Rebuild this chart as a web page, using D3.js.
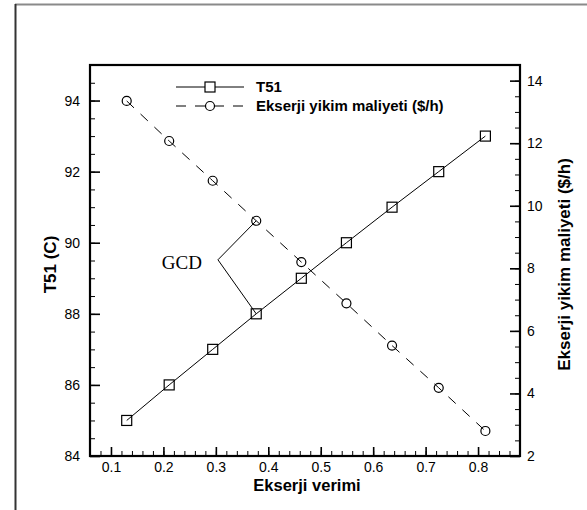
<!DOCTYPE html>
<html>
<head>
<meta charset="utf-8">
<script src="https://cdn.jsdelivr.net/npm/d3@7"></script>
<style>
  body { margin: 0; background: #fff; }
  svg { display: block; }
  text { font-family: "Liberation Sans", Arial, sans-serif; }
</style>
</head>
<body>
<svg id="chart"></svg>
<script>
// data
const efficiency = [0.130, 0.211, 0.294, 0.377, 0.463, 0.549, 0.636, 0.725, 0.814];
const t51 = [85, 86, 87, 88, 89, 90, 91, 92, 93];
const cost = [13.35, 12.07, 10.8, 9.52, 8.2, 6.88, 5.53, 4.18, 2.8];

const xTicks = [0.1, 0.2, 0.3, 0.4, 0.5, 0.6, 0.7, 0.8];
const leftTicks = [84, 86, 88, 90, 92, 94];
const rightTicks = [2, 4, 6, 8, 10, 12, 14];

// GCD callout (data coords)
const gcdLabel = [0.197, 89.27];
const gcdVertex = [0.304, 89.52];
const gcdIndex = 3;

const W = 587, H = 510;
const margin = {top: 65, right: 67, bottom: 54, left: 90};
const width = W - margin.left - margin.right;
const height = H - margin.top - margin.bottom;

const svg = d3.select("#chart").attr("width", W).attr("height", H);

// outer page border (only top and left visible)
svg.append("line").attr("x1", 15).attr("x2", W).attr("y1", 4.5).attr("y2", 4.5)
  .attr("stroke", "#8a8a8a").attr("stroke-width", 2);
svg.append("line").attr("x1", 15.5).attr("x2", 15.5).attr("y1", 4).attr("y2", H)
  .attr("stroke", "#333").attr("stroke-width", 2);

const g = svg.append("g").attr("transform", `translate(${margin.left},${margin.top})`);

const x = d3.scaleLinear().domain([0.06, 0.88]).range([0, width]);
const yL = d3.scaleLinear().domain([84, 95]).range([height, 0]);
const yR = d3.scaleLinear().domain([2, 14.5]).range([height, 0]);

// minor ticks
const xMinor = d3.range(0.06, 0.881, 0.02).map(d => +d.toFixed(2));
const lMinor = d3.range(84, 95.01, 0.5);
const rMinor = d3.range(2, 14.51, 0.5);

function styleAxis(sel, sw) {
  sel.select(".domain").remove();
  sel.selectAll(".tick line").attr("stroke", "#000").attr("stroke-width", sw);
  sel.selectAll(".tick text").style("font-size", "14px").attr("fill", "#000")
    .style("font-family", "'Liberation Sans', Arial, sans-serif");
}

g.append("g").attr("transform", `translate(0,${height})`)
  .call(d3.axisBottom(x).tickValues(xMinor).tickSize(-5).tickFormat(""))
  .call(s => styleAxis(s, 1));
g.append("g").attr("transform", `translate(0,${height})`)
  .call(d3.axisBottom(x).tickValues(xTicks).tickSize(-9).tickPadding(6).tickFormat(d3.format(".1f")))
  .call(s => styleAxis(s, 1.6));

g.append("g")
  .call(d3.axisLeft(yL).tickValues(lMinor).tickSize(-5).tickFormat(""))
  .call(s => styleAxis(s, 1));
g.append("g")
  .call(d3.axisLeft(yL).tickValues(leftTicks).tickSize(-10).tickPadding(10))
  .call(s => styleAxis(s, 1.6));

g.append("g").attr("transform", `translate(${width},0)`)
  .call(d3.axisRight(yR).tickValues(rMinor).tickSize(-5).tickFormat(""))
  .call(s => styleAxis(s, 1));
g.append("g").attr("transform", `translate(${width},0)`)
  .call(d3.axisRight(yR).tickValues(rightTicks).tickSize(-10).tickPadding(7))
  .call(s => styleAxis(s, 1.6));

// frame
g.append("rect").attr("width", width).attr("height", height)
  .attr("fill", "none").attr("stroke", "#000").attr("stroke-width", 2.2);

// series
const tLine = d3.line().x((d, i) => x(efficiency[i])).y(d => yL(d));
const cLine = d3.line().x((d, i) => x(efficiency[i])).y(d => yR(d));

g.append("path").attr("d", tLine(t51))
  .attr("fill", "none").attr("stroke", "#000").attr("stroke-width", 1);
g.append("path").attr("d", cLine(cost))
  .attr("fill", "none").attr("stroke", "#000").attr("stroke-width", 1)
  .attr("stroke-dasharray", "10,9");

const sq = 10;
g.selectAll(".sq").data(t51).join("rect")
  .attr("x", (d, i) => x(efficiency[i]) - sq / 2)
  .attr("y", d => yL(d) - sq / 2)
  .attr("width", sq).attr("height", sq)
  .attr("fill", "none").attr("stroke", "#000").attr("stroke-width", 1.2);

g.selectAll(".ci").data(cost).join("circle")
  .attr("cx", (d, i) => x(efficiency[i]))
  .attr("cy", d => yR(d))
  .attr("r", 4.5)
  .attr("fill", "none").attr("stroke", "#000").attr("stroke-width", 1.2);

// GCD callout
const vx = x(gcdVertex[0]), vy = yL(gcdVertex[1]);
g.append("path")
  .attr("d", `M${x(efficiency[gcdIndex])},${yR(cost[gcdIndex])}L${vx},${vy}L${x(efficiency[gcdIndex])},${yL(t51[gcdIndex])}`)
  .attr("fill", "none").attr("stroke", "#000").attr("stroke-width", 1);
g.append("text")
  .attr("x", x(gcdLabel[0])).attr("y", yL(gcdLabel[1]))
  .style("font-family", "'Liberation Serif', 'Times New Roman', serif")
  .style("font-size", "19px")
  .text("GCD");

// legend
const legend = svg.append("g");
const rows = [
  {label: "T51", dash: null, marker: "square", y: 87},
  {label: "Ekserji yikim maliyeti ($/h)", dash: "10,9", marker: "circle", y: 106}
];
rows.forEach(r => {
  legend.append("line").attr("x1", 176).attr("x2", 244).attr("y1", r.y).attr("y2", r.y)
    .attr("stroke", "#000").attr("stroke-width", 1)
    .attr("stroke-dasharray", r.dash);
  if (r.marker === "square") {
    legend.append("rect").attr("x", 210 - sq / 2).attr("y", r.y - sq / 2)
      .attr("width", sq).attr("height", sq)
      .attr("fill", "#fff").attr("stroke", "#000").attr("stroke-width", 1.2);
  } else {
    legend.append("circle").attr("cx", 210).attr("cy", r.y).attr("r", 4.5)
      .attr("fill", "#fff").attr("stroke", "#000").attr("stroke-width", 1.2);
  }
  legend.append("text").attr("x", 256).attr("y", r.y).attr("dy", "0.35em")
    .style("font-size", "15px").style("font-weight", "bold")
    .text(r.label);
});

// axis titles
svg.append("text")
  .attr("x", margin.left + width / 2 + 2).attr("y", 491)
  .attr("text-anchor", "middle")
  .style("font-size", "16.5px").style("font-weight", "bold")
  .text("Ekserji verimi");

svg.append("text")
  .attr("transform", `translate(56,${margin.top + height / 2 + 4}) rotate(-90)`)
  .attr("text-anchor", "middle")
  .style("font-size", "17px").style("font-weight", "bold")
  .text("T51 (C)");

svg.append("text")
  .attr("transform", `translate(570,${margin.top + height / 2 + 4}) rotate(-90)`)
  .attr("text-anchor", "middle")
  .style("font-size", "17px").style("font-weight", "bold")
  .text("Ekserji yikim maliyeti ($/h)");
</script>
</body>
</html>
